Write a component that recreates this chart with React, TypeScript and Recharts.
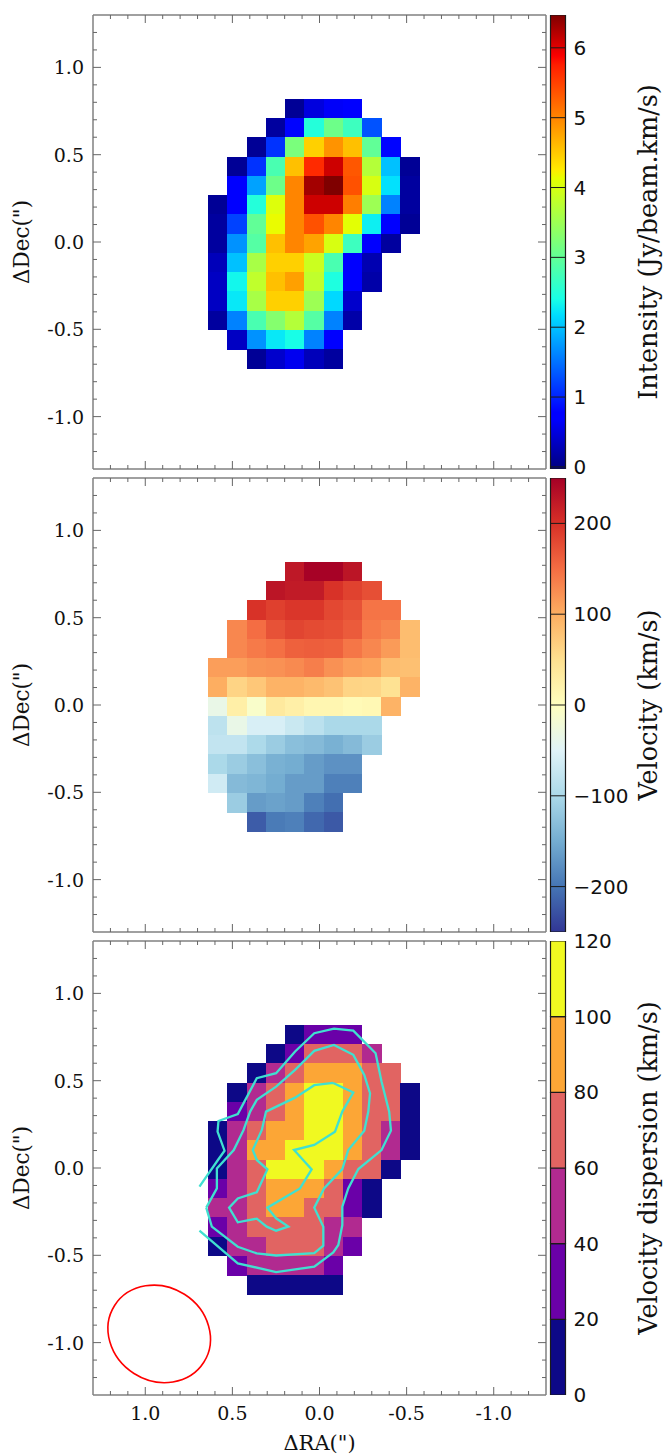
import React from 'react';
import {
  ScatterChart, Scatter, XAxis, YAxis, Label,
  ComposedChart, Bar, ReferenceLine,
} from 'recharts';

const COLUMN_RA = [0.582, 0.472, 0.362, 0.251, 0.141, 0.031, -0.08, -0.19, -0.3, -0.411, -0.521];
const ROW_DEC = [0.764, 0.654, 0.544, 0.433, 0.323, 0.213, 0.102, -0.008, -0.118, -0.229, -0.339, -0.449, -0.56, -0.67];
const _ = null;

const INTENSITY_ROWS = [
  [_, _, _, _, 0.1, 0.5, 0.65, 0.75, _, _, _],
  [_, _, _, 0.15, 0.8, 2.5, 3.1, 2.7, 1.3, _, _],
  [_, _, 0.1, 1.1, 3.2, 4.45, 4.9, 4.57, 3.0, 0.8, _],
  [_, 0.1, 1.1, 2.8, 4.57, 5.67, 6.1, 5.34, 3.7, 2.0, 0.1],
  [_, 0.75, 1.8, 3.1, 5.0, 6.3, 6.47, 5.38, 4.0, 2.2, 0.15],
  [0.1, 0.7, 2.5, 4.05, 5.0, 6.1, 6.1, 5.05, 3.5, 1.6, 0.15],
  [0.15, 1.2, 3.0, 4.15, 5.0, 5.38, 5.0, 4.1, 2.3, 0.75, 0.1],
  [0.15, 1.7, 2.9, 4.57, 5.0, 4.78, 4.0, 2.7, 0.75, 0.15, _],
  [0.3, 2.0, 3.6, 4.45, 4.45, 3.9, 2.8, 0.75, 0.25, _, _],
  [0.35, 2.35, 3.8, 4.57, 4.8, 3.8, 2.45, 0.72, 0.2, _, _],
  [0.35, 2.25, 3.6, 4.45, 4.45, 3.5, 2.15, 0.4, _, _, _],
  [0.15, 1.6, 2.8, 3.3, 3.7, 2.9, 1.6, 0.2, _, _, _],
  [_, 0.35, 1.7, 2.25, 2.4, 1.6, 0.72, _, _, _, _],
  [_, _, 0.1, 0.4, 0.6, 0.3, 0.15, _, _, _, _],
];

const VELOCITY_ROWS = [
  [_, _, _, _, 225, 248, 248, 228, _, _, _],
  [_, _, _, 228, 222, 222, 198, 185, 175, _, _],
  [_, _, 198, 187, 195, 195, 180, 172, 145, 145, _],
  [_, 130, 150, 172, 183, 178, 175, 165, 140, 132, 85],
  [_, 130, 140, 148, 160, 162, 160, 143, 130, 115, 85],
  [112, 112, 120, 122, 128, 137, 122, 112, 108, 85, 82],
  [100, 62, 75, 95, 95, 88, 80, 62, 60, 47, 95],
  [-35, 25, -10, 35, 25, 15, 15, 8, 12, 95, _],
  [-83, -35, -58, -58, -72, -85, -100, -100, -100, _, _],
  [-78, -78, -98, -115, -130, -135, -145, -135, -115, _, _],
  [-100, -115, -130, -145, -150, -165, -175, -175, _, _, _],
  [-65, -135, -140, -150, -165, -165, -190, -190, _, _, _],
  [_, -115, -165, -160, -165, -190, -205, _, _, _, _],
  [_, _, -220, -195, -190, -210, -222, _, _, _, _],
];

const DISPERSION_ROWS = [
  [_, _, _, _, 10, 30, 30, 30, _, _, _],
  [_, _, _, 10, 30, 70, 70, 70, 50, _, _],
  [_, _, 10, 50, 70, 90, 90, 90, 70, 70, _],
  [_, 10, 50, 70, 90, 110, 110, 90, 70, 70, 10],
  [_, 30, 50, 70, 90, 110, 110, 90, 70, 70, 10],
  [10, 50, 70, 90, 90, 110, 110, 90, 70, 50, 10],
  [10, 50, 90, 90, 110, 110, 110, 90, 70, 50, 10],
  [10, 50, 70, 110, 110, 110, 90, 70, 70, 10, _],
  [30, 50, 70, 90, 90, 90, 70, 30, 10, _, _],
  [50, 50, 70, 90, 90, 70, 70, 30, 10, _, _],
  [30, 50, 70, 70, 70, 70, 50, 50, _, _, _],
  [10, 50, 50, 70, 70, 70, 50, 30, _, _, _],
  [_, 30, 50, 50, 50, 50, 30, _, _, _, _],
  [_, _, 10, 10, 10, 10, 10, _, _, _, _],
];

const CONTOUR_OUTER = [
  [0.689, -0.107], [0.58, 0.05], [0.545, 0.099], [0.585, 0.208], [0.58, 0.269], [0.469, 0.309],
  [0.36, 0.514], [0.249, 0.543], [0.14, 0.667], [0.03, 0.772], [-0.083, 0.798], [-0.194, 0.787],
  [-0.322, 0.657], [-0.356, 0.495], [-0.4, 0.323], [-0.41, 0.214], [-0.356, 0.103], [-0.223, -0.006],
  [-0.165, -0.117], [-0.131, -0.222], [-0.131, -0.327], [-0.108, -0.441], [-0.079, -0.483],
  [0.03, -0.565], [0.249, -0.596], [0.469, -0.546], [0.689, -0.359],
];
const CONTOUR_MIDDLE = [
  [0.65, -0.227], [0.589, -0.117], [0.589, -0.002], [0.492, 0.103], [0.436, 0.218], [0.398, 0.323],
  [0.36, 0.39], [0.249, 0.466], [0.14, 0.562], [0.03, 0.671], [-0.083, 0.705], [-0.194, 0.648],
  [-0.257, 0.533], [-0.29, 0.428], [-0.28, 0.323], [-0.257, 0.214], [-0.165, 0.103], [-0.131, -0.006],
  [-0.026, -0.117], [0.03, -0.227], [-0.022, -0.336], [-0.022, -0.445], [0.03, -0.487],
  [0.249, -0.501], [0.36, -0.489], [0.469, -0.451], [0.618, -0.336], [0.65, -0.227],
];
const CONTOUR_INNER = [
  [-0.079, 0.487], [-0.194, 0.432], [-0.131, 0.323], [-0.089, 0.208], [0.03, 0.132], [0.146, 0.103],
  [0.045, -0.008], [0.112, -0.117], [0.299, -0.227], [0.249, -0.288], [0.179, -0.336], [0.249, -0.359],
  [0.303, -0.336], [0.36, -0.29], [0.469, -0.311], [0.519, -0.227], [0.469, -0.174], [0.36, -0.139],
  [0.299, -0.008], [0.36, 0.046], [0.383, 0.103], [0.331, 0.218], [0.307, 0.323], [0.14, 0.403],
  [0.03, 0.474], [-0.079, 0.487],
];
const BEAM_CENTER = [{ ra: 0.92, dec: -0.95 }];

const AXIS_TICKS = [
  -1.2, -1.1, -1, -0.9, -0.8, -0.7, -0.6, -0.5, -0.4, -0.3, -0.2, -0.1, 0,
  0.1, 0.2, 0.3, 0.4, 0.5, 0.6, 0.7, 0.8, 0.9, 1, 1.1, 1.2,
];
const MAJOR_TICKS = [-1, -0.5, 0, 0.5, 1];
const INTENSITY_TICKS = [0, 1, 2, 3, 4, 5, 6];
const VELOCITY_TICKS = [-200, -100, 0, 100, 200];
const DISPERSION_TICKS = [0, 20, 40, 60, 80, 100, 120];
const PLASMA_BANDS = ['#0d0887', '#6a00a8', '#b12a90', '#e16462', '#fca636', '#f0f921'];
const BAND_SIZES = [20, 20, 20, 20, 20, 20];

const JET_STOPS: [number, string][] = [
  [0, '#00007f'], [0.11, '#0000ff'], [0.125, '#0000ff'], [0.34, '#00deff'], [0.375, '#19ffe6'],
  [0.5, '#7cff79'], [0.64, '#e6ff00'], [0.66, '#ffea00'], [0.89, '#ff1e00'], [0.91, '#fa0000'], [1, '#7f0000'],
];
const RDYLBU_STOPS: [number, string][] = [
  [0, '#313695'], [0.1, '#4575b4'], [0.2, '#74add1'], [0.3, '#abd9e9'], [0.4, '#e0f3f8'], [0.5, '#ffffbf'],
  [0.6, '#fee090'], [0.7, '#fdae61'], [0.8, '#f46d43'], [0.9, '#d73027'], [1, '#a50026'],
];

const INK = '#111';
const FRAME = '#808080';
const TICK = '#666';
const SERIF = "'DejaVu Serif', serif";
const SANS = "'DejaVu Sans', sans-serif";
const CELL = 19.6;
const PX_PER_UNIT = 174.5;

const hex = (s: string) => [1, 3, 5].map((i) => parseInt(s.slice(i, i + 2), 16));
function rampColor(stops: [number, string][], t: number) {
  const u = Math.max(0, Math.min(1, t));
  for (let i = 1; i < stops.length; i++) {
    if (u <= stops[i][0]) {
      const [a, ca] = stops[i - 1];
      const [b, cb] = stops[i];
      const f = (u - a) / (b - a);
      const A = hex(ca);
      const B = hex(cb);
      return `rgb(${A.map((v, k) => Math.round(v + (B[k] - v) * f)).join(',')})`;
    }
  }
  return stops[stops.length - 1][1];
}

const jetColor = (v: number) => rampColor(JET_STOPS, (v + 0.03) / 6.5);
const velocityColor = (v: number) => rampColor(RDYLBU_STOPS, (v + 250) / 500);
const dispersionColor = (v: number) => PLASMA_BANDS[Math.min(5, Math.floor(v / 20))];

function cells(rows: (number | null)[][], colorOf: (v: number) => string) {
  const out: { ra: number; dec: number; value: number; color: string }[] = [];
  rows.forEach((row, r) =>
    row.forEach((value, c) => {
      if (value !== null) out.push({ ra: COLUMN_RA[c], dec: ROW_DEC[r], value, color: colorOf(value) });
    }),
  );
  return out;
}
const toPoints = (list: number[][]) => list.map(([ra, dec]) => ({ ra, dec }));

const CellShape = (p: any) => (
  <rect
    x={p.cx - CELL / 2}
    y={p.cy - CELL / 2}
    width={CELL}
    height={CELL}
    fill={p.payload.color}
    shapeRendering="crispEdges"
  />
);
const NoDot = () => <g />;
const BeamShape = (p: any) => (
  <ellipse
    cx={p.cx}
    cy={p.cy}
    rx={0.303 * PX_PER_UNIT}
    ry={0.269 * PX_PER_UNIT}
    fill="none"
    stroke="#ff0000"
    strokeWidth={1.6}
    transform={`rotate(32.5 ${p.cx} ${p.cy})`}
  />
);

const tickLen = (v: number) => (MAJOR_TICKS.includes(v) ? 8 : 4);
const label = (v: number) => v.toFixed(1);

const LeftTick = (p: any) => {
  const v = p.payload.value;
  return (
    <g>
      <line x1={p.x} x2={p.x + tickLen(v)} y1={p.y} y2={p.y} stroke={TICK} strokeWidth={1} />
      {MAJOR_TICKS.includes(v) && (
        <text x={p.x - 9} y={p.y + 7} textAnchor="end" fontFamily={SERIF} fontSize={19} fill={INK}>
          {label(v)}
        </text>
      )}
    </g>
  );
};
const RightTick = (p: any) => (
  <line x1={p.x} x2={p.x - tickLen(p.payload.value)} y1={p.y} y2={p.y} stroke={TICK} strokeWidth={1} />
);
const TopTick = (p: any) => (
  <line x1={p.x} x2={p.x} y1={p.y} y2={p.y + tickLen(p.payload.value)} stroke={TICK} strokeWidth={1} />
);
const bottomTick = (withLabels: boolean) => (p: any) => {
  const v = p.payload.value;
  return (
    <g>
      <line x1={p.x} x2={p.x} y1={p.y} y2={p.y - tickLen(v)} stroke={TICK} strokeWidth={1} />
      {withLabels && MAJOR_TICKS.includes(v) && (
        <text x={p.x} y={p.y + 25} textAnchor="middle" fontFamily={SERIF} fontSize={19} fill={INK}>
          {label(v)}
        </text>
      )}
    </g>
  );
};

const PLOT_W = 453;
const PLOT_H = 454;
const TOP_GAP = 15;

function MapPanel({ top, rows, colorOf, contours, xLabel }: any) {
  const data = cells(rows, colorOf);
  const frame = { stroke: FRAME, strokeWidth: 1.5 };
  return (
    <div style={{ position: 'absolute', left: 0, top: top - TOP_GAP }}>
      <ScatterChart
        width={665}
        height={TOP_GAP + PLOT_H + 60}
        margin={{ top: TOP_GAP - 1, left: 0, right: 665 - 93 - PLOT_W - 1, bottom: 0 }}
      >
        <XAxis
          xAxisId="b" dataKey="ra" type="number" reversed domain={[-1.3, 1.3]} ticks={AXIS_TICKS} interval={0}
          allowDataOverflow height={60} tickSize={0} tickMargin={0} tickLine={false} axisLine={frame}
          tick={bottomTick(!!xLabel)}
        >
          {xLabel && (
            <Label
              content={() => (
                <text x={319.5} y={TOP_GAP + PLOT_H + 55} textAnchor="middle" fontFamily={SERIF} fontSize={21} fill={INK}>
                  {xLabel}
                </text>
              )}
            />
          )}
        </XAxis>
        <XAxis
          xAxisId="t" dataKey="ra" type="number" orientation="top" reversed domain={[-1.3, 1.3]} ticks={AXIS_TICKS}
          interval={0} allowDataOverflow height={1} tickSize={0} tickMargin={0} tickLine={false} axisLine={frame}
          tick={TopTick}
        />
        <YAxis
          yAxisId="l" dataKey="dec" type="number" domain={[-1.3, 1.3]} ticks={AXIS_TICKS} interval={0}
          allowDataOverflow width={93} tickSize={0} tickMargin={0} tickLine={false} axisLine={frame} tick={LeftTick}
        >
          <Label
            content={() => (
              <text
                x={29}
                y={TOP_GAP + PLOT_H / 2}
                textAnchor="middle"
                fontFamily={SERIF}
                fontSize={21.5}
                fill={INK}
                transform={`rotate(-90 29 ${TOP_GAP + PLOT_H / 2})`}
              >
                {'ΔDec(")'}
              </text>
            )}
          />
        </YAxis>
        <YAxis
          yAxisId="r" dataKey="dec" type="number" orientation="right" domain={[-1.3, 1.3]} ticks={AXIS_TICKS}
          interval={0} allowDataOverflow width={1} tickSize={0} tickMargin={0} tickLine={false} axisLine={frame}
          tick={RightTick}
        />
        <Scatter xAxisId="b" yAxisId="l" data={data} shape={CellShape} isAnimationActive={false} />
        {/* the top and right axes need a series of their own to be drawn with the frame */}
        <Scatter xAxisId="t" yAxisId="r" data={[]} shape={NoDot} isAnimationActive={false} />
        {contours &&
          contours.map((c: number[][], i: number) => (
            <Scatter
              key={i}
              xAxisId="b"
              yAxisId="l"
              data={toPoints(c)}
              line={{ stroke: '#40e0d0', strokeWidth: 2.3 }}
              lineType="joint"
              shape={NoDot}
              isAnimationActive={false}
            />
          ))}
        {contours && (
          <Scatter xAxisId="b" yAxisId="l" data={BEAM_CENTER} shape={BeamShape} isAnimationActive={false} />
        )}
      </ScatterChart>
    </div>
  );
}

function Colorbar({ top, domain, ticks, title, tickText, stops, bands }: any) {
  const row: any = { name: 'bar' };
  if (bands) BAND_SIZES.forEach((s, i) => (row[`b${i}`] = s));
  else row.range = domain;
  const gid = `grad-${top}`;
  const cy = TOP_GAP + PLOT_H / 2;
  const tx = 657 - 540;
  return (
    <div style={{ position: 'absolute', left: 540, top: top - TOP_GAP }}>
      <ComposedChart
        width={125}
        height={TOP_GAP + PLOT_H + 15}
        data={[row]}
        barCategoryGap={0}
        margin={{ top: TOP_GAP, left: 10.5, right: 0, bottom: 15 }}
      >
        {stops && (
          <defs>
            <linearGradient id={gid} x1="0" y1="1" x2="0" y2="0">
              {stops.map(([o, c]: [number, string]) => (
                <stop key={o} offset={o} stopColor={c} />
              ))}
            </linearGradient>
          </defs>
        )}
        <XAxis dataKey="name" type="category" hide />
        <YAxis
          orientation="right" type="number" domain={domain} ticks={ticks} interval={0} allowDataOverflow width={99.5}
          axisLine={false} tickLine={false} tickSize={0} tickMargin={0}
          tick={(p: any) => (
            <text x={p.x + 8} y={p.y + 7} fontFamily={SANS} fontSize={20} fill={INK}>
              {tickText(p.payload.value)}
            </text>
          )}
        >
          <Label
            content={() => (
              <text
                x={tx}
                y={cy}
                textAnchor="middle"
                fontFamily={SERIF}
                fontSize={25.5}
                fill={INK}
                transform={`rotate(-90 ${tx} ${cy})`}
              >
                {title}
              </text>
            )}
          />
        </YAxis>
        {bands
          ? BAND_SIZES.map((_s, i) => (
              <Bar key={i} dataKey={`b${i}`} stackId="c" fill={bands[i]} stroke="#1a1a1a" strokeWidth={1.2} isAnimationActive={false} />
            ))
          : <Bar dataKey="range" fill={`url(#${gid})`} stroke="#1a1a1a" strokeWidth={1.2} isAnimationActive={false} />}
        {!bands &&
          ticks.map((t: number) => <ReferenceLine key={t} y={t} stroke="#1a1a1a" strokeWidth={1} />)}
      </ComposedChart>
    </div>
  );
}

const minus = (v: number) => (v < 0 ? `\u2212${-v}` : `${v}`);

export default function App() {
  return (
    <div style={{ position: 'absolute', left: 0, top: 0, width: 665, height: 1455, background: '#fff', overflow: 'hidden' }}>
      <MapPanel top={15} rows={INTENSITY_ROWS} colorOf={jetColor} />
      <MapPanel top={478} rows={VELOCITY_ROWS} colorOf={velocityColor} />
      <MapPanel
        top={941}
        rows={DISPERSION_ROWS}
        colorOf={dispersionColor}
        contours={[CONTOUR_OUTER, CONTOUR_MIDDLE, CONTOUR_INNER]}
        xLabel={'ΔRA(")'}
      />
      <Colorbar top={15} domain={[-0.03, 6.47]} ticks={INTENSITY_TICKS} title="Intensity (Jy/beam.km/s)" tickText={minus} stops={JET_STOPS} />
      <Colorbar top={478} domain={[-250, 250]} ticks={VELOCITY_TICKS} title="Velocity (km/s)" tickText={minus} stops={RDYLBU_STOPS} />
      <Colorbar top={941} domain={[0, 120]} ticks={DISPERSION_TICKS} title="Velocity dispersion (km/s)" tickText={minus} bands={PLASMA_BANDS} />
    </div>
  );
}
